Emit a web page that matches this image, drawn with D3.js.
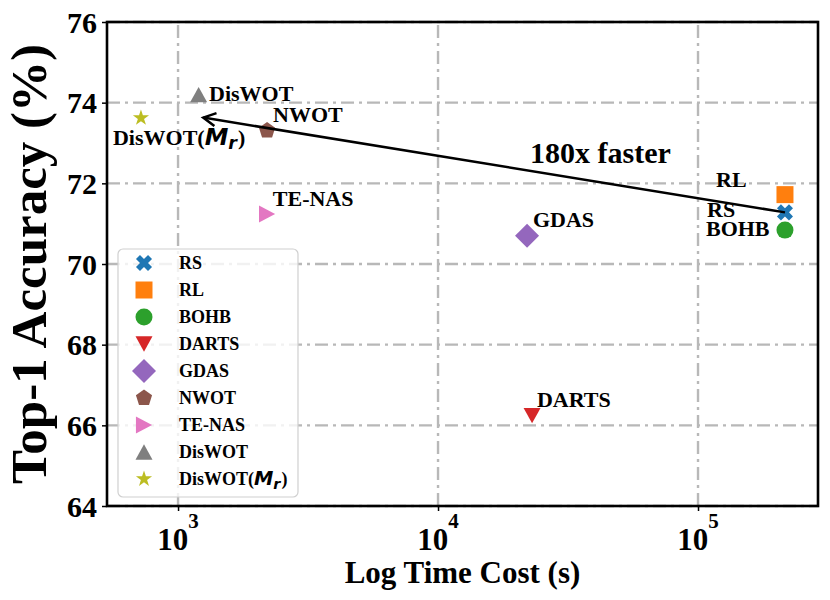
<!DOCTYPE html>
<html><head><meta charset="utf-8">
<script src="https://cdn.jsdelivr.net/npm/d3@7"></script>
<style>
html,body{margin:0;padding:0;background:#fff;}
svg{display:block;}
text{font-family:"Liberation Serif","Times New Roman",serif;font-weight:bold;}
</style></head>
<body>
<svg id="chart" width="830" height="600"></svg>
<script>
// ---- data ----
const methods   = ["RS","RL","BOHB","DARTS","GDAS","NWOT","TE-NAS","DisWOT","DisWOT(Mr)"];
const timeCost  = [216000, 216000, 216000, 23000, 22000, 2200, 2200, 1200, 720];
const accuracy  = [71.28, 71.72, 70.84, 66.24, 70.70, 73.31, 71.24, 74.20, 73.62];
const markers   = ["X","s","o","v","D","p",">","^","*"];
const colors    = ["#1f77b4","#ff7f0e","#2ca02c","#d62728","#9467bd","#8c564b","#e377c2","#7f7f7f","#bcbd22"];
// text annotation anchors (data coords, left/baseline)
const labelX    = [108300, 117300, 107300, 24020, 23180, 2319, 2315, 1316, 562];
const labelY    = [71.17, 71.92, 70.69, 66.46, 70.92, 73.53, 71.44, 74.04, 72.95];
const xTicks    = [1e3, 1e4, 1e5];
const xTickExp  = ["3","4","5"];
const yTicks    = [64, 66, 68, 70, 72, 74, 76];
const xDomain   = [533, 289400];
const yDomain   = [64, 76];
const arrowFrom = [216000, 71.28];
const arrowTo   = [1250, 73.63];
const arrowText = {x: 22600, y: 72.50, text: "180x faster"};

// ---- layout ----
const L = 107, R = 818, T = 22, B = 506;
const svg = d3.select("#chart");
const x = d3.scaleLog().domain(xDomain).range([L, R]);
const y = d3.scaleLinear().domain(yDomain).range([B, T]);

// grid
const gridStyle = g => g.attr("stroke","#b8b8b8").attr("stroke-width",2.4).attr("stroke-dasharray","13,5,3,5").attr("fill","none");
const grid = svg.append("g");
grid.selectAll(".gx").data(xTicks).join("line")
  .attr("x1", d=>x(d)).attr("x2", d=>x(d)).attr("y1", B).attr("y2", T).call(gridStyle);
grid.selectAll(".gy").data(yTicks).join("line")
  .attr("y1", d=>y(d)).attr("y2", d=>y(d)).attr("x1", L).attr("x2", R).call(gridStyle);

// axes via d3
const xAxis = d3.axisBottom(x).tickValues(xTicks).tickSize(5).tickFormat("");
const yAxis = d3.axisLeft(y).tickValues(yTicks).tickSize(5).tickFormat("");
const gx = svg.append("g").attr("transform",`translate(0,${B})`).call(xAxis);
const gy = svg.append("g").attr("transform",`translate(${L},0)`).call(yAxis);
[gx,gy].forEach(g=>{ g.select(".domain").remove(); g.selectAll(".tick line").attr("stroke","#000").attr("stroke-width",1.5); });

// y tick labels
svg.selectAll(".ytl").data(yTicks).join("text")
  .attr("x", 97).attr("y", d=>y(d)+10.5).attr("text-anchor","end")
  .attr("font-size",30).text(d=>d);
// x tick labels
xTicks.forEach((t,i)=>{
  const tx = svg.append("text").attr("x", x(t)).attr("y", 550).attr("text-anchor","middle").attr("font-size",31);
  tx.append("tspan").text("10");
  tx.append("tspan").attr("font-size",21).attr("dy",-22).text(xTickExp[i]);
});

// axis titles
svg.append("text").attr("x", (L+R)/2).attr("y", 583).attr("text-anchor","middle")
  .attr("font-size",31).text("Log Time Cost (s)");
svg.append("text").attr("transform",`translate(46,${(T+B)/2}) rotate(-90)`)
  .attr("text-anchor","middle").attr("font-size",51).text("Top-1 Accuracy (%)");

// marker shapes
function markerPath(type, S){
  const h = S/2;
  const poly = pts => "M" + pts.map(p=>p[0].toFixed(2)+","+p[1].toFixed(2)).join("L") + "Z";
  switch(type){
    case "s": return poly([[-h,-h],[h,-h],[h,h],[-h,h]]);
    case "o": return d3.arc()({innerRadius:0,outerRadius:h,startAngle:0,endAngle:2*Math.PI});
    case "v": return poly([[0,h*0.9],[-h,-h*0.9],[h,-h*0.9]]);
    case "^": return poly([[0,-h*0.9],[-h,h*0.9],[h,h*0.9]]);
    case ">": return poly([[h*0.95,0],[-h*0.95,-h],[-h*0.95,h]]);
    case "D": { const d = S*0.707; return poly([[0,-d],[d,0],[0,d],[-d,0]]); }
    case "p": { const pts=[]; for(let k=0;k<5;k++){const a=-Math.PI/2+k*2*Math.PI/5; pts.push([h*Math.cos(a),h*Math.sin(a)]);} return poly(pts); }
    case "*": { const pts=[]; for(let k=0;k<10;k++){const a=-Math.PI/2+k*Math.PI/5; const r=(k%2? h*0.381966 : h); pts.push([r*Math.cos(a),r*Math.sin(a)]);} return poly(pts); }
    case "X": {
      const v = [[-1,-3],[-1,-1],[-3,-1],[-3,1],[-1,1],[-1,3],[1,3],[1,1],[3,1],[3,-1],[1,-1],[1,-3]].map(p=>[p[0]/6*S,p[1]/6*S]);
      const c = Math.SQRT1_2;
      return poly(v.map(p=>[(p[0]-p[1])*c,(p[0]+p[1])*c]));
    }
  }
}
const MS = 17;

// points
svg.selectAll(".pt").data(methods).join("path")
  .attr("transform",(d,i)=>`translate(${x(timeCost[i])},${y(accuracy[i])})`)
  .attr("d",(d,i)=>markerPath(markers[i], MS))
  .attr("fill",(d,i)=>colors[i]);

// label helper with M_r math
function writeLabel(sel, name, fs){
  if(name === "DisWOT(Mr)"){
    sel.append("tspan").text("DisWOT(");
    sel.append("tspan").attr("font-family","DejaVu Sans").attr("font-style","italic").attr("font-weight","bold")
      .attr("font-size",fs*1.08).text("M");
    sel.append("tspan").attr("font-family","DejaVu Sans").attr("font-style","italic").attr("font-weight","bold")
      .attr("font-size",fs*0.8).attr("dy",fs*0.2).text("r");
    sel.append("tspan").attr("dy",-fs*0.2).attr("dx",1).text(")");
  } else sel.text(name);
}
methods.forEach((m,i)=>{
  const t = svg.append("text").attr("x", x(labelX[i])).attr("y", y(labelY[i])).attr("font-size",22);
  writeLabel(t, m, 22);
});

// arrow
const ax0 = x(arrowFrom[0]), ay0 = y(arrowFrom[1]), ax1 = x(arrowTo[0]), ay1 = y(arrowTo[1]);
svg.append("line").attr("x1",ax0).attr("y1",ay0).attr("x2",ax1).attr("y2",ay1)
  .attr("stroke","#000").attr("stroke-width",2.5);
{
  const ang = Math.atan2(ay0-ay1, ax0-ax1), hl = 14, ha = 28*Math.PI/180;
  const p1 = [ax1+hl*Math.cos(ang+ha), ay1+hl*Math.sin(ang+ha)];
  const p2 = [ax1+hl*Math.cos(ang-ha), ay1+hl*Math.sin(ang-ha)];
  svg.append("path").attr("d",`M${p1[0]},${p1[1]}L${ax1},${ay1}L${p2[0]},${p2[1]}`)
    .attr("fill","none").attr("stroke","#000").attr("stroke-width",2.5).attr("stroke-linejoin","miter");
}
svg.append("text").attr("x", x(arrowText.x)).attr("y", y(arrowText.y)).attr("font-size",30).text(arrowText.text);

// frame
svg.append("rect").attr("x",L).attr("y",T).attr("width",R-L).attr("height",B-T)
  .attr("fill","none").attr("stroke","#000").attr("stroke-width",2.6);

// legend
const lg = svg.append("g");
lg.append("rect").attr("x",118).attr("y",249).attr("width",180).attr("height",248).attr("rx",5)
  .attr("fill","#fff").attr("fill-opacity",0.8).attr("stroke","#d0d0d0").attr("stroke-width",1.2);
methods.forEach((m,i)=>{
  const cy = 263 + i*27;
  lg.append("path").attr("transform",`translate(144,${cy})`).attr("d",markerPath(markers[i],MS)).attr("fill",colors[i]);
  const t = lg.append("text").attr("x",179).attr("y",cy+6).attr("font-size",18);
  writeLabel(t, m, 18);
});
</script>
</body></html>
